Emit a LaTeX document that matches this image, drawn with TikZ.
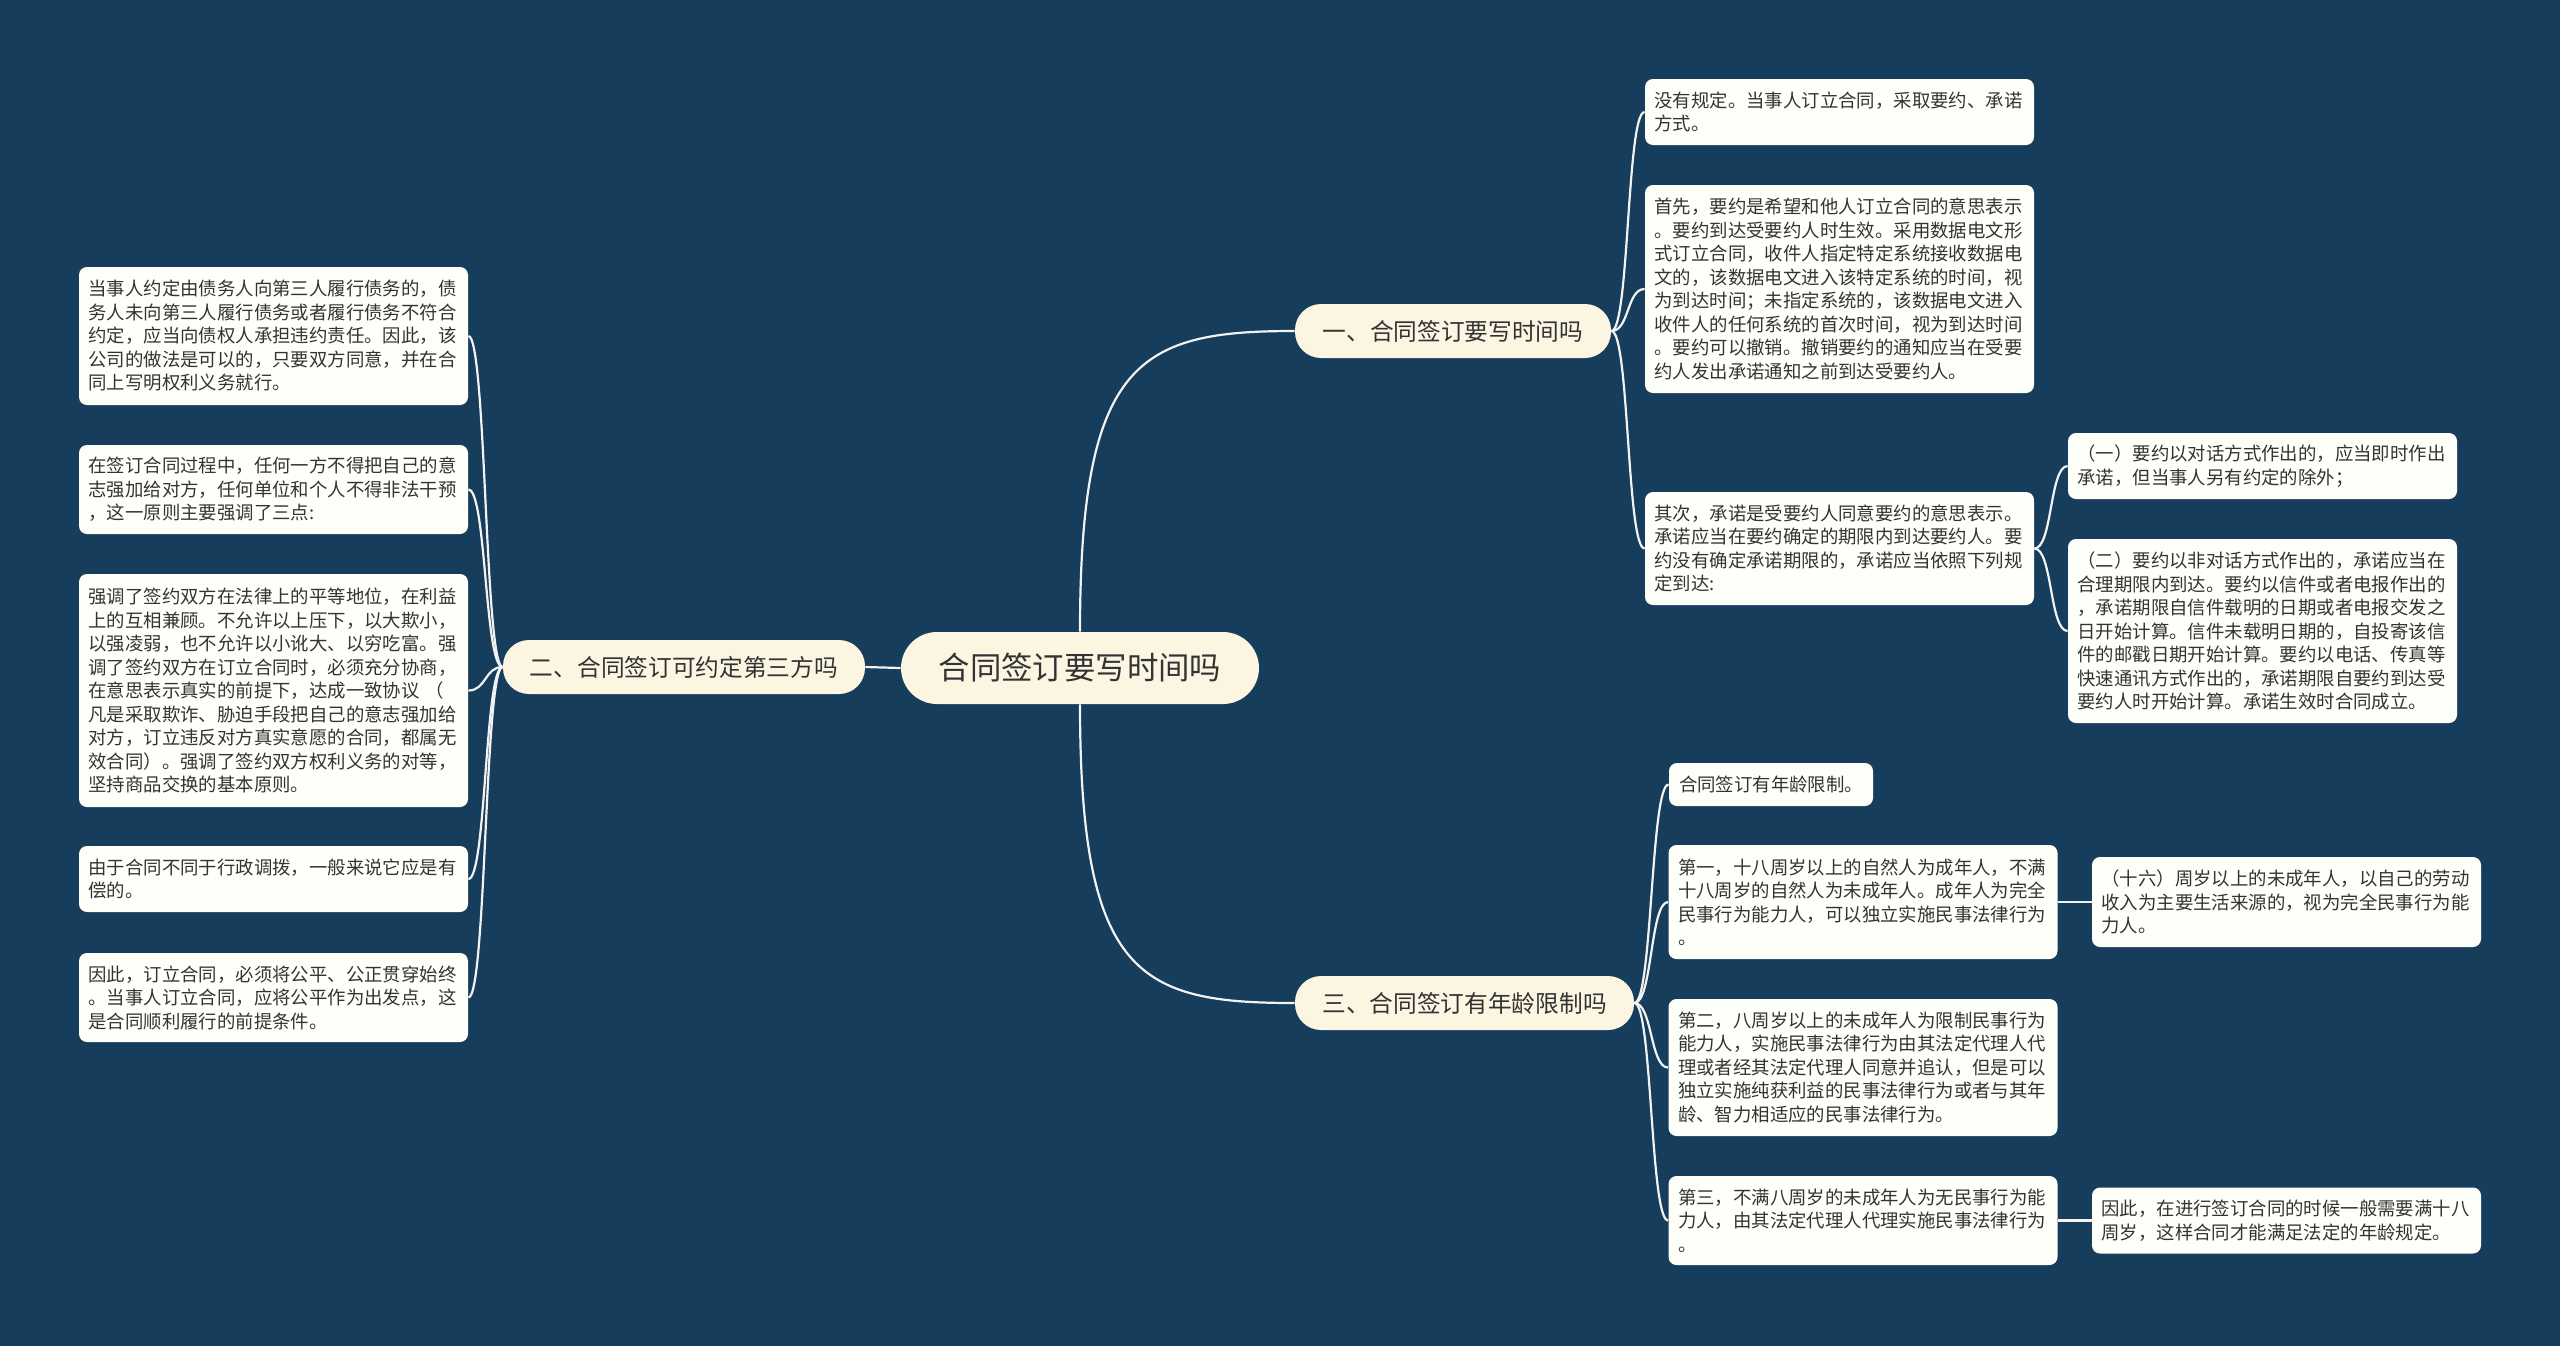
\documentclass[tikz,border=0pt]{standalone}
\usepackage{fontspec}
\setmainfont{Noto Sans CJK SC}
\definecolor{bg}{HTML}{173D5C}
\definecolor{mainfill}{HTML}{FBF5E2}
\definecolor{leaffill}{HTML}{FFFFFA}
\definecolor{txt}{HTML}{333333}
\definecolor{conncol}{HTML}{F2F2F2}
\begin{document}
\begin{tikzpicture}[x=0.5pt,y=-0.5pt,
  conn/.style={draw=conncol,line width=1.1pt},
  rootbox/.style={fill=mainfill,rounded corners=18pt,text=txt,font=\fontsize{15.7pt}{18pt}\selectfont,minimum height=36pt,minimum width=179pt,inner sep=0pt},
  mainbox/.style={fill=mainfill,rounded corners=13pt,text=txt,font=\fontsize{11.85pt}{14pt}\selectfont,minimum height=27pt,inner sep=0pt},
  leaf/.style={fill=leaffill,rounded corners=4pt,text=txt,font=\fontsize{9.2pt}{11.75pt}\selectfont,text width=185pt,inner xsep=4.75pt,inner ysep=2pt,align=left},
  leafs/.style={fill=leaffill,rounded corners=4pt,text=txt,font=\fontsize{9.2pt}{11.75pt}\selectfont,inner xsep=5pt,inner ysep=2pt}
]
\useasboundingbox (0,0) rectangle (2560,1345);
\fill[bg] (-20,-20) rectangle (2580,1365);

% root and branches
\node[rootbox] (c) at (1080,668) {合同签订要写时间吗};
\node[mainbox,minimum width=158pt] (b1) at (1453,331) {一、合同签订要写时间吗};
\node[mainbox,minimum width=181pt] (b2) at (684,667) {二、合同签订可约定第三方吗};
\node[mainbox,minimum width=169.5pt] (b3) at (1464.5,1003) {三、合同签订有年龄限制吗};

% left leaves
\node[leaf,minimum height=69pt] (l1) at (273.5,336) {当事人约定由债务人向第三人履行债务的，债\\务人未向第三人履行债务或者履行债务不符合\\约定，应当向债权人承担违约责任。因此，该\\公司的做法是可以的，只要双方同意，并在合\\同上写明权利义务就行。};
\node[leaf,minimum height=44.5pt] (l2) at (273.5,489.5) {在签订合同过程中，任何一方不得把自己的意\\志强加给对方，任何单位和个人不得非法干预\\，这一原则主要强调了三点:};
\node[leaf,minimum height=116.5pt] (l3) at (273.5,690.5) {强调了签约双方在法律上的平等地位，在利益\\上的互相兼顾。不允许以上压下，以大欺小，\\以强凌弱，也不允许以小讹大、以穷吃富。强\\调了签约双方在订立合同时，必须充分协商，\\在意思表示真实的前提下，达成一致协议 （\\凡是采取欺诈、胁迫手段把自己的意志强加给\\对方，订立违反对方真实意愿的合同，都属无\\效合同）。强调了签约双方权利义务的对等，\\坚持商品交换的基本原则。};
\node[leaf,minimum height=33pt] (l4) at (273.5,879) {由于合同不同于行政调拨，一般来说它应是有\\偿的。};
\node[leaf,minimum height=44.5pt] (l5) at (273.5,997.5) {因此，订立合同，必须将公平、公正贯穿始终\\。当事人订立合同，应将公平作为出发点，这\\是合同顺利履行的前提条件。};

% branch 1 leaves
\node[leaf,minimum height=33pt] (r1) at (1839.5,112) {没有规定。当事人订立合同，采取要约、承诺\\方式。};
\node[leaf,minimum height=104pt] (r2) at (1839.5,289) {首先，要约是希望和他人订立合同的意思表示\\。要约到达受要约人时生效。采用数据电文形\\式订立合同，收件人指定特定系统接收数据电\\文的，该数据电文进入该特定系统的时间，视\\为到达时间；未指定系统的，该数据电文进入\\收件人的任何系统的首次时间，视为到达时间\\。要约可以撤销。撤销要约的通知应当在受要\\约人发出承诺通知之前到达受要约人。};
\node[leaf,minimum height=56.5pt] (r3) at (1839.5,548.5) {其次，承诺是受要约人同意要约的意思表示。\\承诺应当在要约确定的期限内到达要约人。要\\约没有确定承诺期限的，承诺应当依照下列规\\定到达:};
\node[leaf,minimum height=33pt] (r3a) at (2262.5,466) {（一）要约以对话方式作出的，应当即时作出\\承诺，但当事人另有约定的除外；};
\node[leaf,minimum height=92pt] (r3b) at (2262.5,631) {（二）要约以非对话方式作出的，承诺应当在\\合理期限内到达。要约以信件或者电报作出的\\，承诺期限自信件载明的日期或者电报交发之\\日开始计算。信件未载明日期的，自投寄该信\\件的邮戳日期开始计算。要约以电话、传真等\\快速通讯方式作出的，承诺期限自要约到达受\\要约人时开始计算。承诺生效时合同成立。};

% branch 3 leaves
\node[leafs,minimum height=21.5pt] (s1) at (1771,784.5) {合同签订有年龄限制。};
\node[leaf,minimum height=57pt] (s2) at (1863,902) {第一，十八周岁以上的自然人为成年人，不满\\十八周岁的自然人为未成年人。成年人为完全\\民事行为能力人，可以独立实施民事法律行为\\。};
\node[leaf,minimum height=68.5pt] (s3) at (1863,1067.5) {第二，八周岁以上的未成年人为限制民事行为\\能力人，实施民事法律行为由其法定代理人代\\理或者经其法定代理人同意并追认，但是可以\\独立实施纯获利益的民事法律行为或者与其年\\龄、智力相适应的民事法律行为。};
\node[leaf,minimum height=44.5pt] (s4) at (1863,1220.5) {第三，不满八周岁的未成年人为无民事行为能\\力人，由其法定代理人代理实施民事法律行为\\。};
\node[leaf,minimum height=45pt] (s2a) at (2286.5,902) {（十六）周岁以上的未成年人，以自己的劳动\\收入为主要生活来源的，视为完全民事行为能\\力人。};
\node[leaf,minimum height=33pt] (s4a) at (2286.5,1220.5) {因此，在进行签订合同的时候一般需要满十八\\周岁，这样合同才能满足法定的年龄规定。};

% root connectors
\draw[conn] (c.north) .. controls +(0,-272) and +(-155,0) .. (b1.west);
\draw[conn] (c.south) .. controls +(0,272) and +(-155,0) .. (b3.west);
\draw[conn] (c.west) -- (b2.east);

% left connectors
\foreach \n in {l1,l2,l3,l4,l5}
  \draw[conn] (b2.west) .. controls +(-18,0) and +(18,0) .. (\n.east);
% branch 1 connectors
\foreach \n in {r1,r2,r3}
  \draw[conn] (b1.east) .. controls +(18,0) and +(-18,0) .. (\n.west);
\foreach \n in {r3a,r3b}
  \draw[conn] (r3.east) .. controls +(18,0) and +(-18,0) .. (\n.west);
% branch 3 connectors
\foreach \n in {s1,s2,s3,s4}
  \draw[conn] (b3.east) .. controls +(18,0) and +(-18,0) .. (\n.west);
\draw[conn] (s2.east) -- (s2a.west);
\draw[conn] (s4.east) -- (s4a.west);
\end{tikzpicture}
\end{document}
